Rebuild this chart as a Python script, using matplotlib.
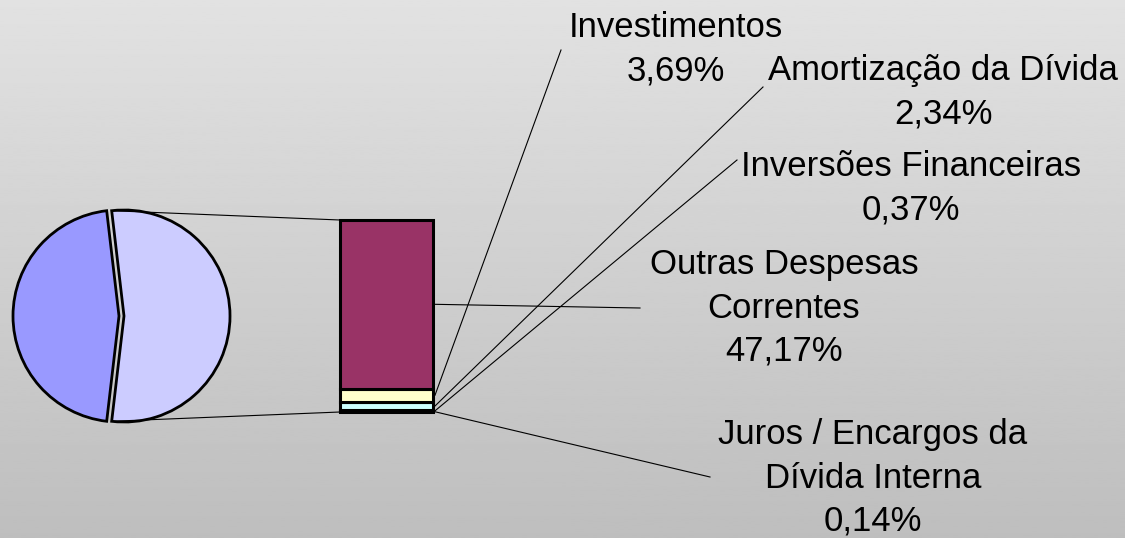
import numpy as np
import matplotlib.pyplot as plt

plt.rcParams['font.family'] = ['Liberation Sans', 'DejaVu Sans']

# pie: Pessoal vs. the rest (split out in the bar)
pie_labels = ['Outros', 'Pessoal e Encargos Sociais']
pie_values = [53.71, 46.29]
pie_colors = ['#CCCCFF', '#9999FF']

# bar, bottom to top
bar_labels = ['Juros / Encargos da\nDívida Interna', 'Inversões Financeiras',
              'Amortização da Dívida', 'Investimentos', 'Outras Despesas\nCorrentes']
bar_values = [0.14, 0.37, 2.34, 3.69, 47.17]
bar_colors = ['#FF8080', '#660066', '#CCFFFF', '#FFFFCC', '#993366']
bar_text = ['0,14%', '0,37%', '2,34%', '3,69%', '47,17%']

W, H = 1125, 538
fig = plt.figure(figsize=(W / 100, H / 100), dpi=100)
ax = fig.add_axes([0, 0, 1, 1])

# gray gradient background
grad = np.linspace(0.885, 0.745, 256).reshape(-1, 1)
ax.imshow(grad, cmap='gray', vmin=0, vmax=1, extent=[0, W, 0, H], aspect='auto', zorder=0)

# pie of bar
cx, cy, R = 119, 222, 106
expl = 5
start = -pie_values[0] * 3.6 / 2
ax.pie(pie_values, colors=pie_colors, center=(cx, cy), radius=R, startangle=start,
       explode=[expl, 0], counterclock=True, frame=True,
       wedgeprops=dict(edgecolor='black', linewidth=2.0))
ax.set_xlim(0, W)
ax.set_ylim(0, H)
ax.set_aspect('equal')
ax.axis('off')

# stacked bar
bx, bw = 386.5, 93
by0 = 126
scale = 192 / sum(bar_values)
bottoms = by0 + np.concatenate([[0], np.cumsum(bar_values)[:-1]]) * scale
heights = np.array(bar_values) * scale
ax.bar([bx] * len(bar_values), heights, width=bw, bottom=bottoms, color=bar_colors,
       edgecolor='black', linewidth=2.2, zorder=3)
btop = by0 + sum(bar_values) * scale

# connector lines pie -> bar
a = np.deg2rad(-start)
ox = cx + expl
ax.plot([ox + R * np.cos(a), bx - bw / 2], [cy + R * np.sin(a), btop], color='black', lw=0.8, zorder=2)
ax.plot([ox + R * np.cos(a), bx - bw / 2], [cy - R * np.sin(a), by0], color='black', lw=0.8, zorder=2)

# labels with leader lines
label_xy = [(873, 60), (911, 350), (943, 446), (676, 489), (784, 230)]
leader_end = [(710, 61), (737, 378), (763, 451), (561, 488), (640, 230)]
for i in range(len(bar_values)):
    ymid = bottoms[i] + heights[i] / 2
    ex, ey = leader_end[i]
    ax.plot([bx + bw / 2 + 2, ex], [ymid, ey], color='black', lw=0.8, zorder=2)
    ax.text(label_xy[i][0], label_xy[i][1], bar_labels[i] + '\n' + bar_text[i],
            ha='center', va='center', fontsize=25, linespacing=1.4, zorder=4)

fig.savefig('out.png', dpi=100)
